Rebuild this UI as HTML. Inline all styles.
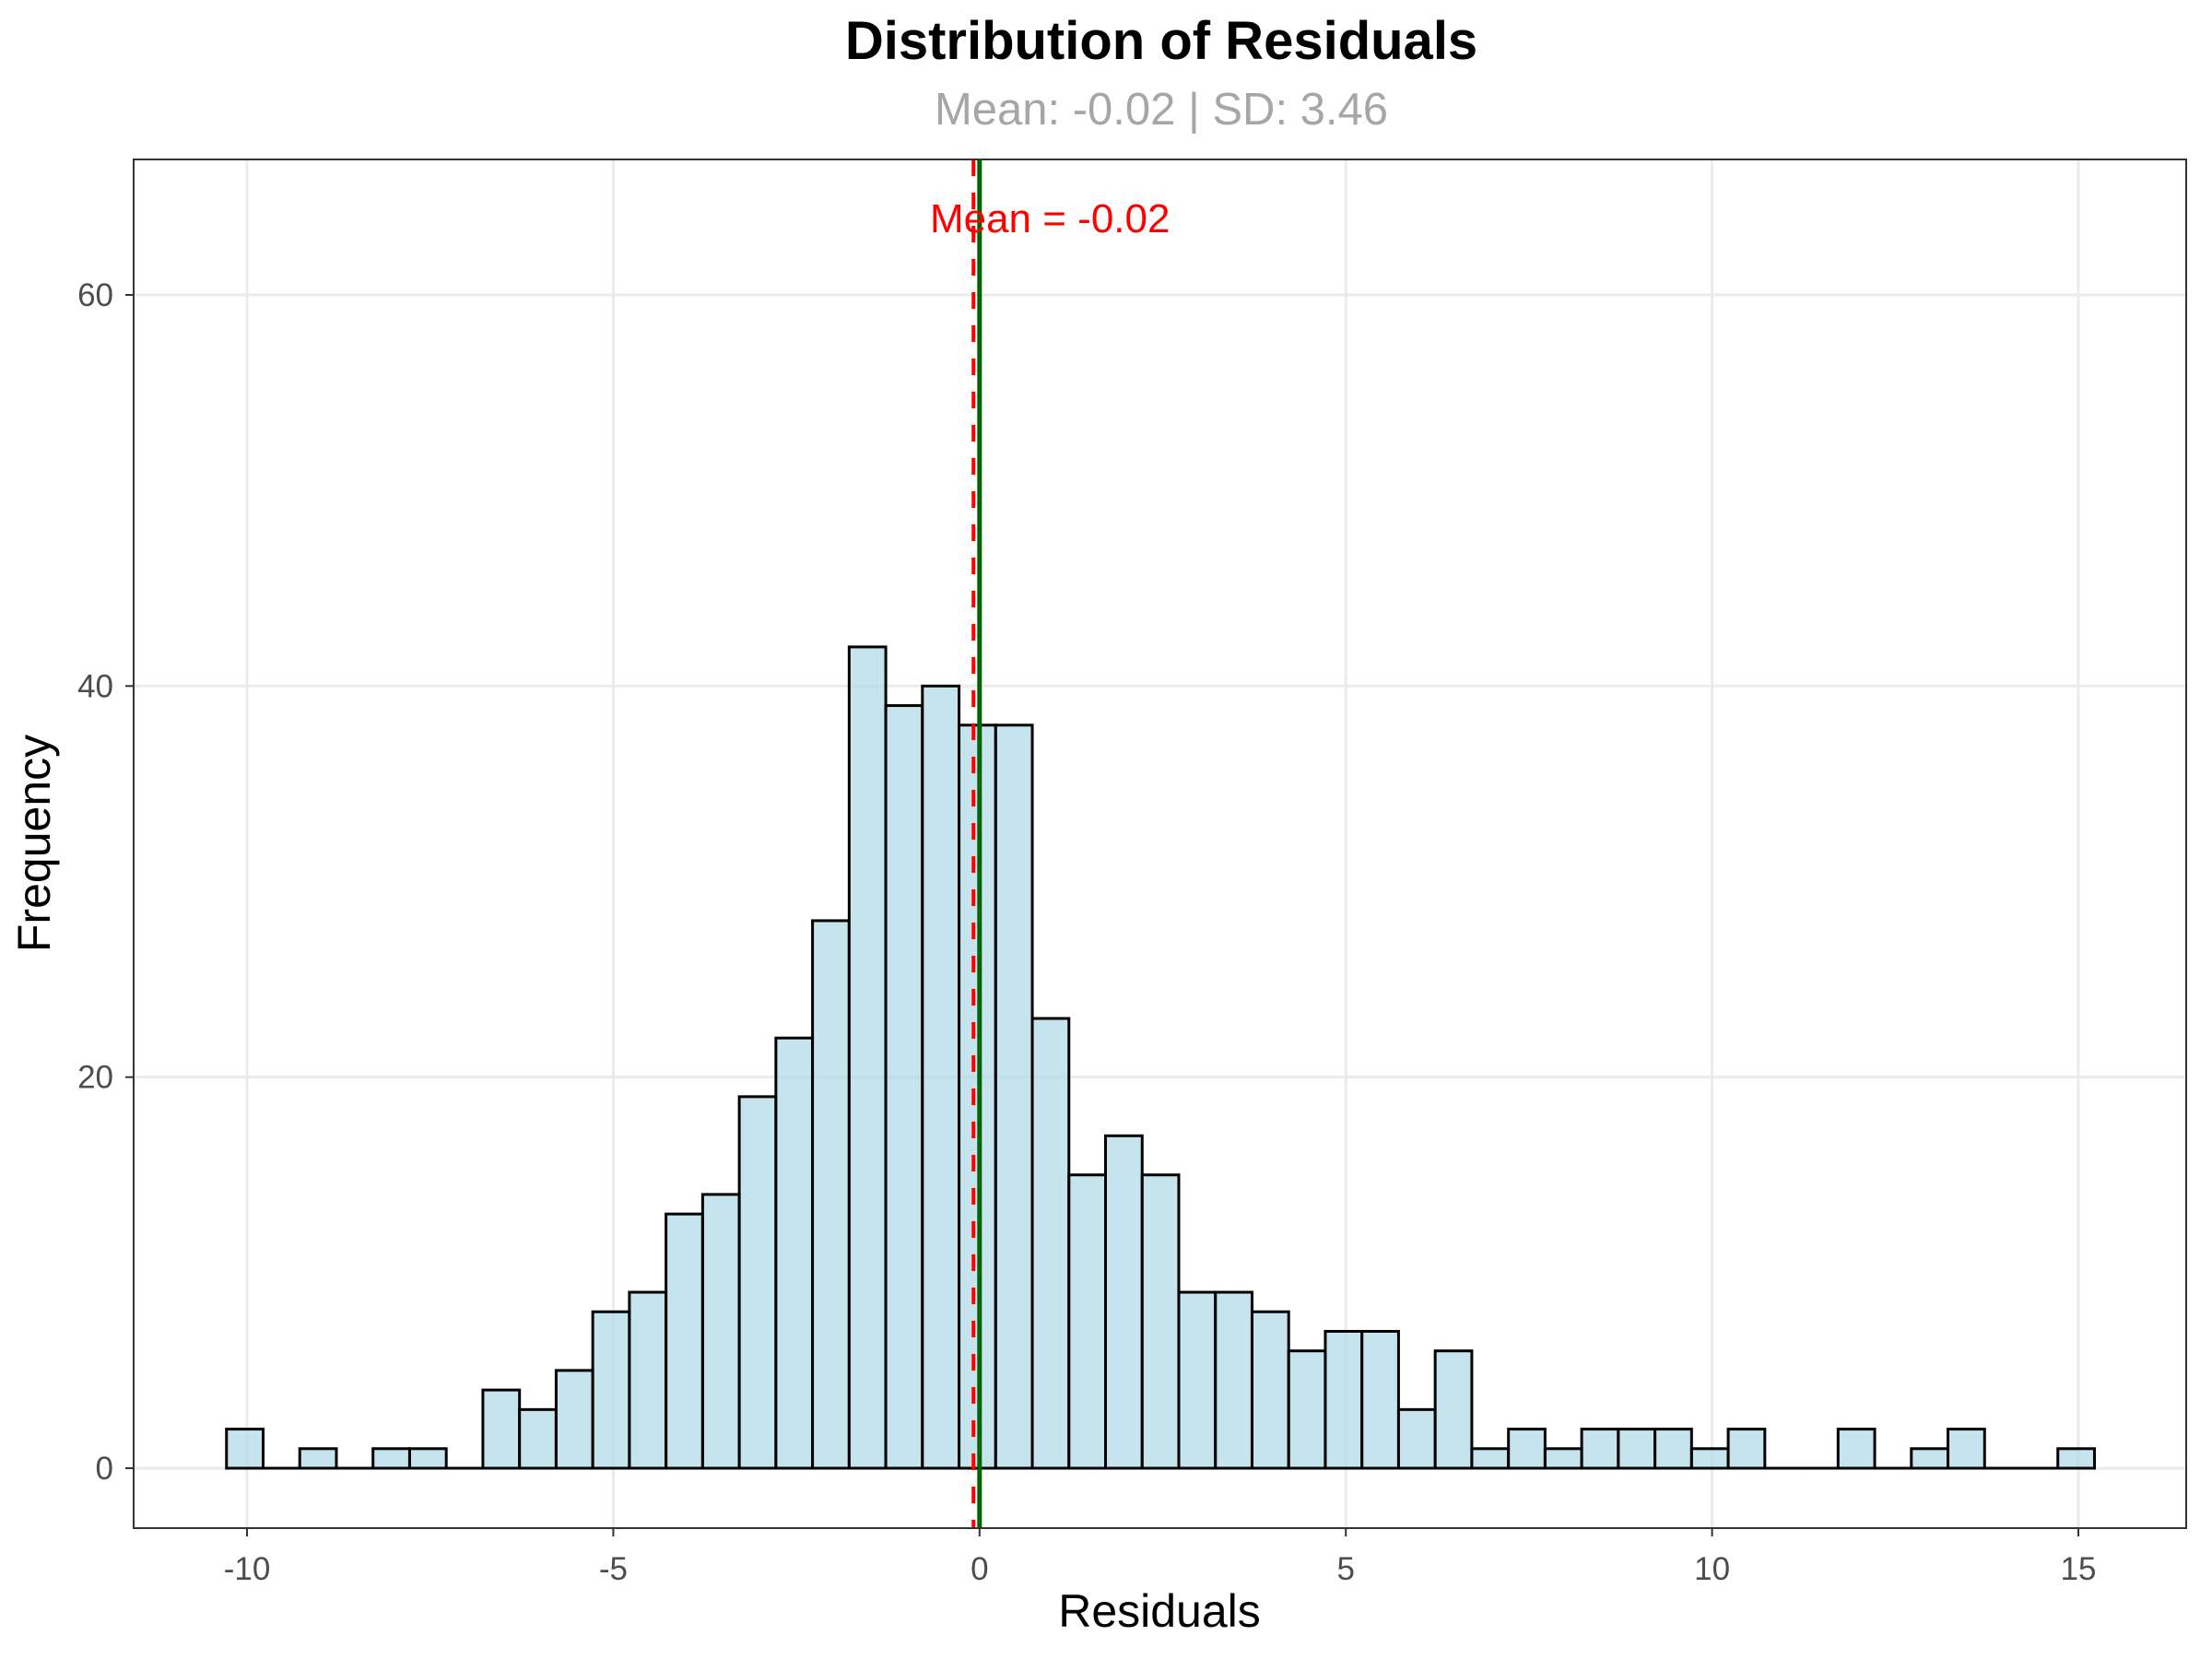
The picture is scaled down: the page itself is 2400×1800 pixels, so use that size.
<!DOCTYPE html>
<html><head><meta charset="utf-8"><style>
html,body{margin:0;padding:0;background:#fff;}
svg{display:block;font-family:"Liberation Sans",Arial,sans-serif;}
</style></head><body>
<svg id="chart" width="2400" height="1800" viewBox="0 0 2400 1800">
<rect x="0" y="0" width="2400" height="1800" fill="#fff"/>
<text x="1260" y="64" text-anchor="middle" font-size="58" font-weight="bold" fill="#000">Distribution of Residuals</text>
<text x="1260" y="135" text-anchor="middle" font-size="49" fill="#a6a6a6">Mean: -0.02 | SD: 3.46</text>
<g id="grid"></g>
<g id="bars"></g>
<g id="lines"></g>
<rect x="145" y="173" width="2227" height="1485" fill="none" stroke="#333" stroke-width="2"/>
<g id="axes"></g>
<text x="1258" y="1765" text-anchor="middle" font-size="50" fill="#000">Residuals</text>
<text transform="translate(54,915) rotate(-90)" text-anchor="middle" font-size="50" fill="#000">Frequency</text>
</svg>
<script>
const binStart = -10.28;
const binWidth = 0.5;
const counts = [2,0,1,0,1,1,0,4,3,5,8,9,13,14,19,22,28,42,39,40,38,38,23,15,17,15,9,9,8,6,7,7,3,6,1,2,1,2,2,2,1,2,0,0,2,0,1,2,0,0,1];
const xTicks = [-10,-5,0,5,10,15];
const yTicks = [0,20,40,60];
const meanVal = -0.02;
const zeroLine = 0;

const L=145,R=2372,T=173,B=1658;
const sx=v=>268+(v+10)*(2255-268)/25;
const sy=v=>1593-(v)*(1593-320)/60;
const NS="http://www.w3.org/2000/svg";
function mk(tag,parent,attrs){const e=document.createElementNS(NS,tag);for(const k in attrs)e.setAttribute(k,attrs[k]);parent.appendChild(e);return e;}
const grid=document.getElementById('grid'),bars=document.getElementById('bars'),lines=document.getElementById('lines'),axes=document.getElementById('axes');
xTicks.forEach(t=>{
  const g=mk('line',grid,{x1:sx(t),x2:sx(t),y1:T,y2:B,stroke:'#ebebeb','stroke-width':3});
  
  
  mk('line',axes,{x1:sx(t),x2:sx(t),y1:B,y2:B+9,stroke:'#333','stroke-width':2});
  const tx=mk('text',axes,{x:sx(t),y:B+56,'text-anchor':'middle','font-size':35,fill:'#4d4d4d'});
  tx.textContent=t;
  
  
});
yTicks.forEach(t=>{
  const g=mk('line',grid,{x1:L,x2:R,y1:sy(t),y2:sy(t),stroke:'#ebebeb','stroke-width':3});
  
  
  mk('line',axes,{x1:L-9,x2:L,y1:sy(t),y2:sy(t),stroke:'#333','stroke-width':2});
  const tx=mk('text',axes,{x:L-22,y:sy(t)+12,'text-anchor':'end','font-size':35,fill:'#4d4d4d'});
  tx.textContent=t;
  
  
});
counts.forEach((c,i)=>{
  const x0=sx(binStart+i*binWidth),x1=sx(binStart+(i+1)*binWidth);
  let r;
  if(c>0){
    r=mk('rect',bars,{x:x0,y:sy(c),width:x1-x0,height:sy(0)-sy(c),fill:'#add8e6','fill-opacity':0.7,stroke:'#000','stroke-width':3});
  } else {
    r=mk('line',bars,{x1:x0,x2:x1,y1:sy(0),y2:sy(0),stroke:'#000','stroke-width':3});
  }
  
  
});
const ml=mk('line',lines,{x1:sx(meanVal)-5,x2:sx(meanVal)-5,y1:T,y2:B,stroke:'#ff0000','stroke-width':4,'stroke-dasharray':'18,18'});


const zl=mk('line',lines,{x1:sx(zeroLine),x2:sx(zeroLine),y1:T,y2:B,stroke:'#006400','stroke-width':5});


const lab=mk('text',lines,{x:sx(meanVal)+78,y:252,'text-anchor':'middle','font-size':44,fill:'#ff0000'});
lab.textContent='Mean = '+meanVal;


</script>
</body></html>
